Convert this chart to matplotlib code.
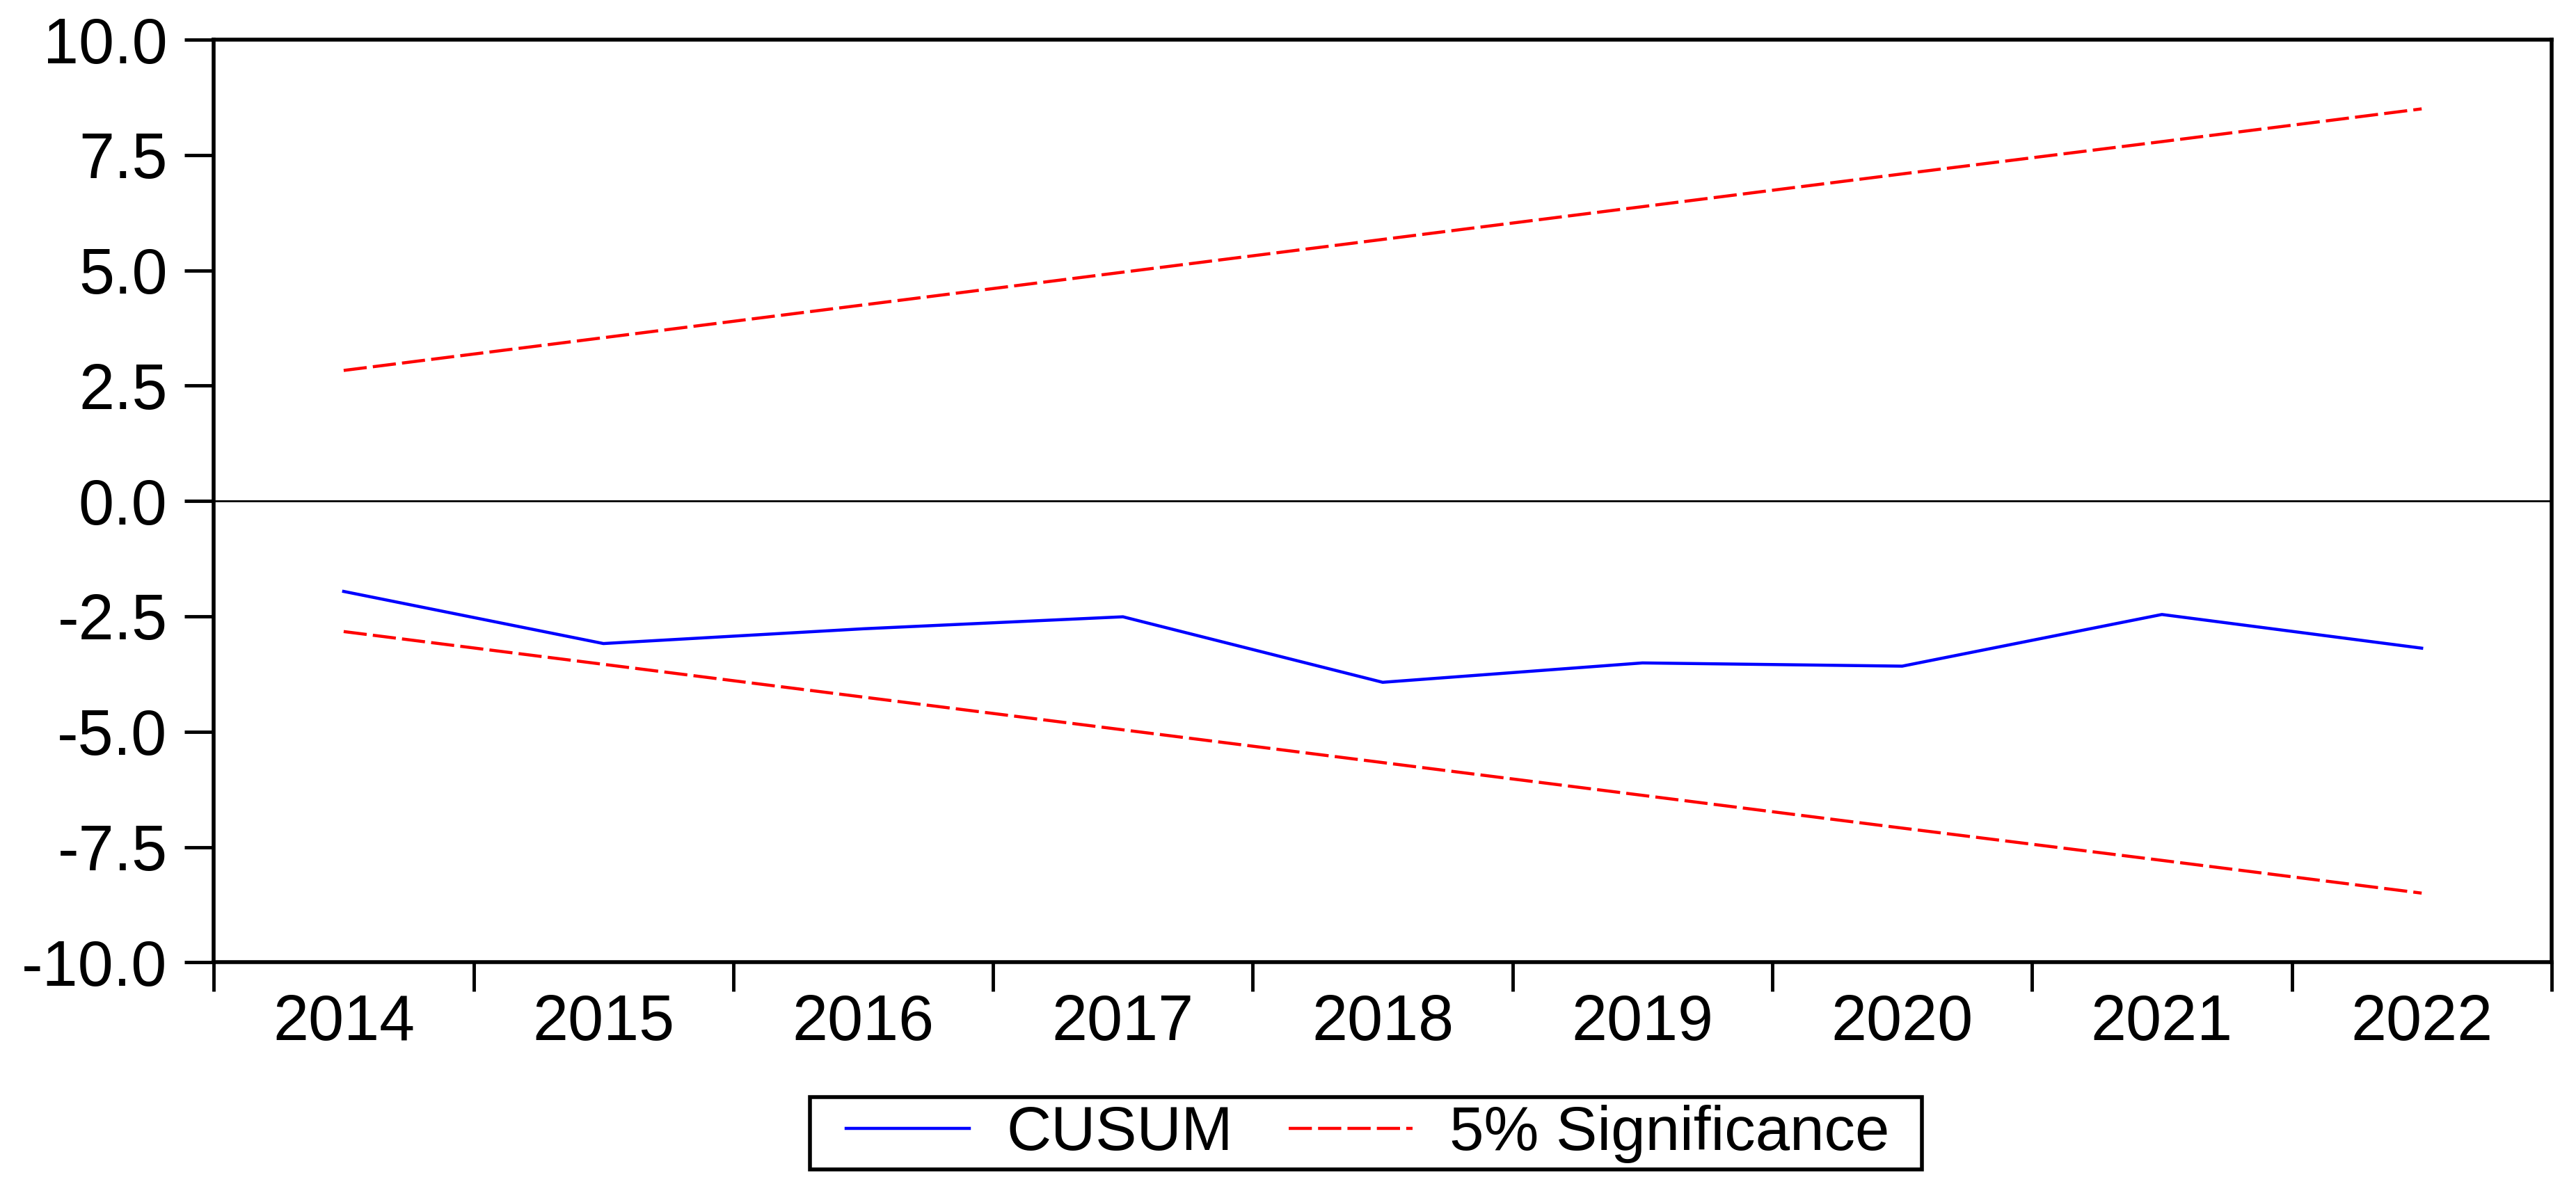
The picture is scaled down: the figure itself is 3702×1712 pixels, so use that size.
#!/usr/bin/env python3
"""CUSUM stability test chart with 5% significance bounds."""

import matplotlib

matplotlib.use("Agg")
import matplotlib.pyplot as plt
from matplotlib.patches import Rectangle
from matplotlib.ticker import FixedLocator, NullFormatter

years = ["2014", "2015", "2016", "2017", "2018", "2019", "2020", "2021", "2022"]
cusum = [-1.96, -3.09, -2.77, -2.51, -3.93, -3.51, -3.58, -2.46, -3.19]
upper_bound = [2.83, 3.54, 4.25, 4.96, 5.67, 6.38, 7.09, 7.79, 8.50]
lower_bound = [-2.83, -3.54, -4.25, -4.96, -5.67, -6.38, -7.09, -7.79, -8.50]
y_ticks = [10.0, 7.5, 5.0, 2.5, 0.0, -2.5, -5.0, -7.5, -10.0]

plt.rcParams["font.family"] = ["Liberation Sans", "DejaVu Sans"]

fig = plt.figure(figsize=(37.02, 17.12), dpi=100)
ax = fig.add_axes([0.083, 0.192, 0.9075, 0.7747])

x = list(range(len(years)))
ax.plot(x, cusum, color="#0000ff", linewidth=3.2, label="CUSUM")
ax.plot(x, upper_bound, color="#ff0000", linewidth=3.2, dashes=(7.5, 2),
        label="5% Significance")
ax.plot(x, lower_bound, color="#ff0000", linewidth=3.2, dashes=(7.5, 2))
ax.axhline(0, color="black", linewidth=2)

ax.set_xlim(-0.5, len(years) - 0.5)
ax.set_ylim(-10, 10)

# year boundaries get the tick marks, year centres get the labels
ax.xaxis.set_major_locator(FixedLocator([i - 0.5 for i in range(len(years) + 1)]))
ax.xaxis.set_major_formatter(NullFormatter())
ax.xaxis.set_minor_locator(FixedLocator(x))
ax.set_xticklabels(years, minor=True)
ax.tick_params(axis="x", which="major", length=30, width=3.5, direction="out")
ax.tick_params(axis="x", which="minor", length=0, pad=32, labelsize=66)

ax.set_yticks(y_ticks)
ax.set_yticklabels([f"{v:.1f}" for v in y_ticks])
ax.tick_params(axis="y", length=30, width=3.5, direction="out", pad=18, labelsize=66)

for spine in ax.spines.values():
    spine.set_linewidth(4)

fig.legend(loc="center", bbox_to_anchor=(0.531, 0.048), ncol=2,
           fontsize=64, frameon=False, handlelength=2.0, handletextpad=0.6,
           columnspacing=0.9, borderpad=0.1, borderaxespad=0)
# EViews-style legend box, a bit wider than matplotlib's own frame
fig.add_artist(Rectangle((0.3144, 0.018), 0.4318, 0.0608, transform=fig.transFigure,
                         fill=False, edgecolor="black", linewidth=4))

fig.savefig("out.png", dpi=100)
